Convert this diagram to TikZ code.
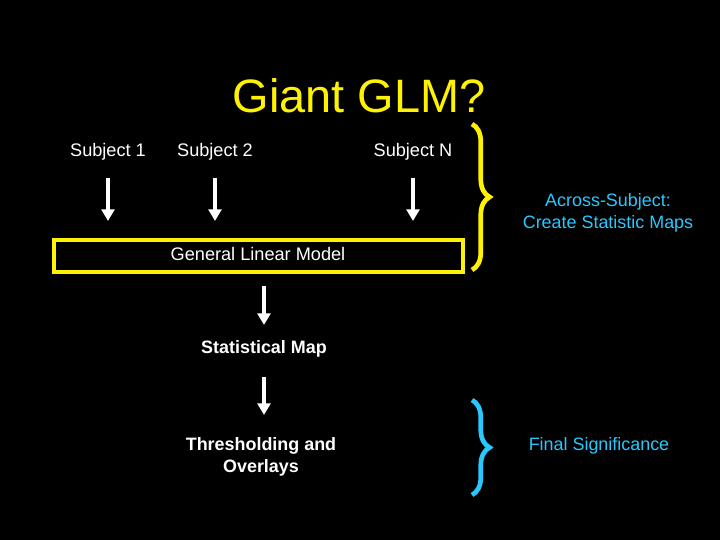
\documentclass[tikz,border=0pt]{standalone}
\usepackage{fontspec}
\setmainfont{Liberation Sans}
\usetikzlibrary{arrows.meta}
\usetikzlibrary{decorations.pathreplacing}

\definecolor{sigblue}{RGB}{40,200,255}
\tikzstyle{subj} = [text=white, font=\fontsize{15.5}{18}\selectfont]
\tikzstyle{stage} = [text=white, font=\bfseries\fontsize{15.3}{19}\selectfont, align=center]
\tikzstyle{note} = [text=sigblue, font=\fontsize{15.3}{19}\selectfont, align=center]
\tikzstyle{down} = [draw=white, line width=3.5pt, -{Triangle[length=10pt,width=11pt]}]

\begin{document}
\begin{tikzpicture}[x=0.03cm, y=-0.03cm]

\fill[black] (0,0) rectangle (720,540);
\useasboundingbox (0,0) rectangle (720,540);

\node[text=yellow, font=\fontsize{40}{42}\selectfont] (title) at (359,96) {Giant GLM?};

\node[subj] (s1) at (108,152) {Subject 1};
\node[subj] (s2) at (215,152) {Subject 2};
\node[subj] (sn) at (413,152) {Subject N};

\node[draw=yellow, line width=4pt, minimum width=409*0.03cm, minimum height=32*0.03cm] (glm) at (258.5,256) {};
\node[subj] (glmtext) at (258,254) {General Linear Model};

\node[stage] (map) at (264,349) {Statistical Map};
\node[stage] (thr) at (261,457) {Thresholding and\\Overlays};

% arrows
\coordinate (a1) at (108,178); \coordinate (b1) at (108,221);
\coordinate (a2) at (215,178); \coordinate (b2) at (215,221);
\coordinate (an) at (413,178); \coordinate (bn) at (413,221);
\coordinate (a3) at (264,286); \coordinate (b3) at (264,325);
\coordinate (a4) at (264,377); \coordinate (b4) at (264,415);
\draw[down] (a1) -- (b1);
\draw[down] (a2) -- (b2);
\draw[down] (an) -- (bn);
\draw[down] (a3) -- (b3);
\draw[down] (a4) -- (b4);

% braces
\coordinate (t1) at (472,124); \coordinate (u1) at (472,270);
\draw[yellow, line width=4pt, decorate, decoration={brace, amplitude=15pt}] (t1) -- (u1);
\node[note] (across) at (608,213) {Across-Subject:\\Create Statistic Maps};

\coordinate (t2) at (472,400); \coordinate (u2) at (472,495);
\draw[sigblue, line width=4pt, decorate, decoration={brace, amplitude=15pt}] (t2) -- (u2);
\node[note] (final) at (599,446) {Final Significance};

\end{tikzpicture}
\end{document}
